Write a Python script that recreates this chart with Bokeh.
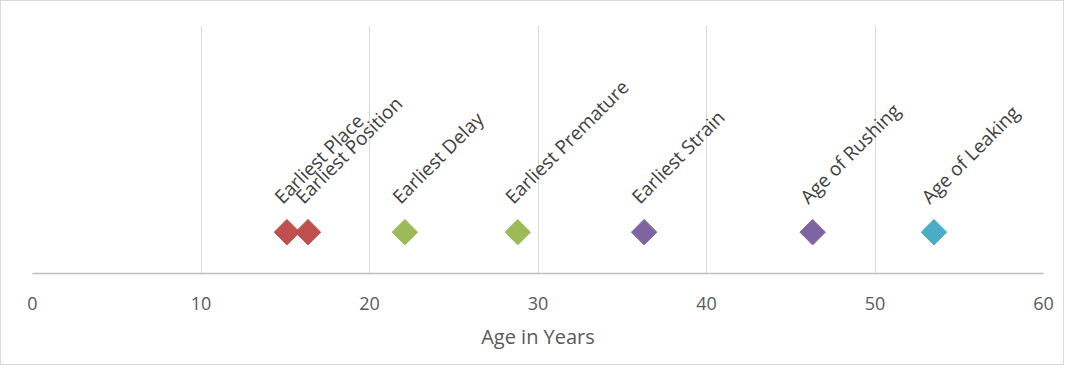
import math
from bokeh.plotting import figure
from bokeh.models import ColumnDataSource, Range1d, FixedTicker
from bokeh.core.properties import value
from bokeh.embed import file_html
from bokeh.resources import INLINE

labels = ["Earliest Place", "Earliest Position", "Earliest Delay", "Earliest Premature",
          "Earliest Strain", "Age of Rushing", "Age of Leaking"]
ages = [15.1, 16.35, 22.1, 28.8, 36.3, 46.3, 53.5]
level = [1, 1, 1, 1, 1, 1, 1]
colors = ["#C0504D", "#C0504D", "#9BBB59", "#9BBB59", "#8064A2", "#8064A2", "#4BACC6"]
x_ticks = [0, 10, 20, 30, 40, 50, 60]

src = ColumnDataSource(dict(x=ages, y=level, label=labels, color=colors))

p = figure(width=1064, height=365, output_backend="svg", toolbar_location=None,
           x_range=Range1d(0, 60), y_range=Range1d(0, 6))
p.min_border_left = 31
p.min_border_right = 22
p.min_border_top = 24
p.min_border_bottom = 93
p.outline_line_color = None
p.styles = {"border": "1px solid #d9d9d9"}

p.yaxis.visible = False
p.ygrid.grid_line_color = None
p.xgrid.ticker = FixedTicker(ticks=x_ticks)
p.xgrid.grid_line_color = "#d9d9d9"
p.xgrid.grid_line_width = 1

ax = p.xaxis[0]
ax.ticker = FixedTicker(ticks=x_ticks)
ax.axis_line_color = "#bfbfbf"
ax.axis_line_width = 1.5
ax.major_tick_line_color = None
ax.minor_tick_line_color = None
ax.major_label_text_font = "Open Sans"
ax.major_label_text_font_size = "18px"
ax.major_label_text_color = "#595959"
ax.major_label_standoff = 17
ax.axis_label = "Age in Years"
ax.axis_label_text_font = "Open Sans"
ax.axis_label_text_font_size = "20px"
ax.axis_label_text_font_style = "normal"
ax.axis_label_text_color = "#595959"
ax.axis_label_standoff = 10

p.scatter("x", "y", source=src, marker="square", size=18, angle=math.pi / 4,
          fill_color="color", line_color="color")

p.text("x", "y", text="label", source=src, angle=math.pi / 4,
       x_offset=0, y_offset=-23, text_align="left", text_baseline="bottom",
       text_font=value("Open Sans"), text_font_size="19px", text_color="#404040")

open("out.html", "w").write(file_html(p, INLINE))
